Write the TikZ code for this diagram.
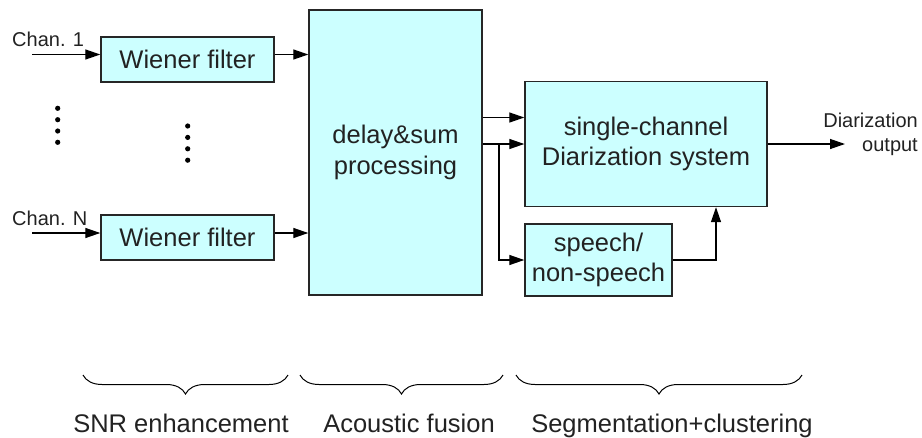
\documentclass[tikz,border=0pt]{standalone}
\usepackage{fontspec}
\setmainfont{Liberation Sans}
\usetikzlibrary{arrows.meta,decorations.pathreplacing}
\definecolor{boxfill}{RGB}{204,255,255}
\definecolor{txt}{RGB}{34,34,34}
\tikzset{
  blk/.style={draw=black!85, line width=1.4pt, fill=boxfill, inner sep=0pt, align=center,
    text=txt, font=\fontsize{25.5}{30.5}\selectfont},
  arr/.style={line width=1.3pt, -{Triangle[length=15pt,width=10pt]}},
  wire/.style={line width=1.3pt},
  small/.style={text=txt, font=\fontsize{20}{24.5}\selectfont, inner sep=0pt},
  lab/.style={text=txt, font=\fontsize{25.5}{30.5}\selectfont, inner sep=0pt},
  brc/.style={line width=1pt, decorate, decoration={brace, mirror, amplitude=19pt}},
  dot/.style={fill=black}
}
\begin{document}
\begin{tikzpicture}[x=1pt,y=-1pt]
\useasboundingbox (0,0) rectangle (922,437);

% blocks
\node[blk, minimum width=173pt, minimum height=45pt] (w1) at (187.5,59.5) {Wiener filter};
\node[blk, minimum width=173pt, minimum height=45pt] (wN) at (187.5,237.5) {Wiener filter};
\node[blk, minimum width=173pt, minimum height=285pt] (delay) at (395.5,152.5) {delay\&sum\\processing};
\node[blk, minimum width=242pt, minimum height=125pt] (single) at (646,144) {single-channel\\Diarization system};
\node[blk, minimum width=147pt, minimum height=72pt] (speech) at (598.5,260) {speech/\\non-speech};

% inputs
\node[small, anchor=base west] (l1) at (12,46.5) {Chan. 1};
\node[small, anchor=base west] (lN) at (12,225) {Chan. N};
\coordinate (c1) at (32,54.5);
\coordinate (cN) at (32,233);
\draw[arr] (c1) -- (w1.west |- c1);
\draw[arr] (cN) -- (wN.west |- cN);
\draw[arr] (w1.east |- c1) -- (delay.west |- c1);
\draw[arr] (wN.east |- cN) -- (delay.west |- cN);

% dots
\foreach \y in {108.3,119.7,131,142.3} \fill[dot] (57.7,\y) circle (2.6pt);
\foreach \y in {126,137.4,148.8,160.2} \fill[dot] (187.7,\y) circle (2.6pt);

% delay -> single / speech
\coordinate (br) at (499,144);
\draw[arr] (delay.east |- 0,117.5) -- (single.west |- 0,117.5);
\draw[arr] (delay.east |- single.west) -- (single.west);
\draw[arr] (br) |- (speech.west);
\draw[arr] (speech.east) -| ([xshift=70pt]single.south);

% output
\coordinate (out) at (845,144);
\draw[arr] (single.east) -- (out);
\node[small, align=right, anchor=east] (lout) at (918,134.5) {Diarization\\output};

% braces
\coordinate (b1a) at (83,375); \coordinate (b1b) at (288,375);
\coordinate (b2a) at (300,375); \coordinate (b2b) at (503,375);
\coordinate (b3a) at (516,375); \coordinate (b3b) at (802,375);
\draw[brc] (b1a) -- (b1b);
\draw[brc] (b2a) -- (b2b);
\draw[brc] (b3a) -- (b3b);
\node[lab, anchor=base] (t1) at (181,432) {SNR enhancement};
\node[lab, anchor=base] (t2) at (409,432) {Acoustic fusion};
\node[lab, anchor=base] (t3) at (672,432) {Segmentation+clustering};
\end{tikzpicture}
\end{document}
